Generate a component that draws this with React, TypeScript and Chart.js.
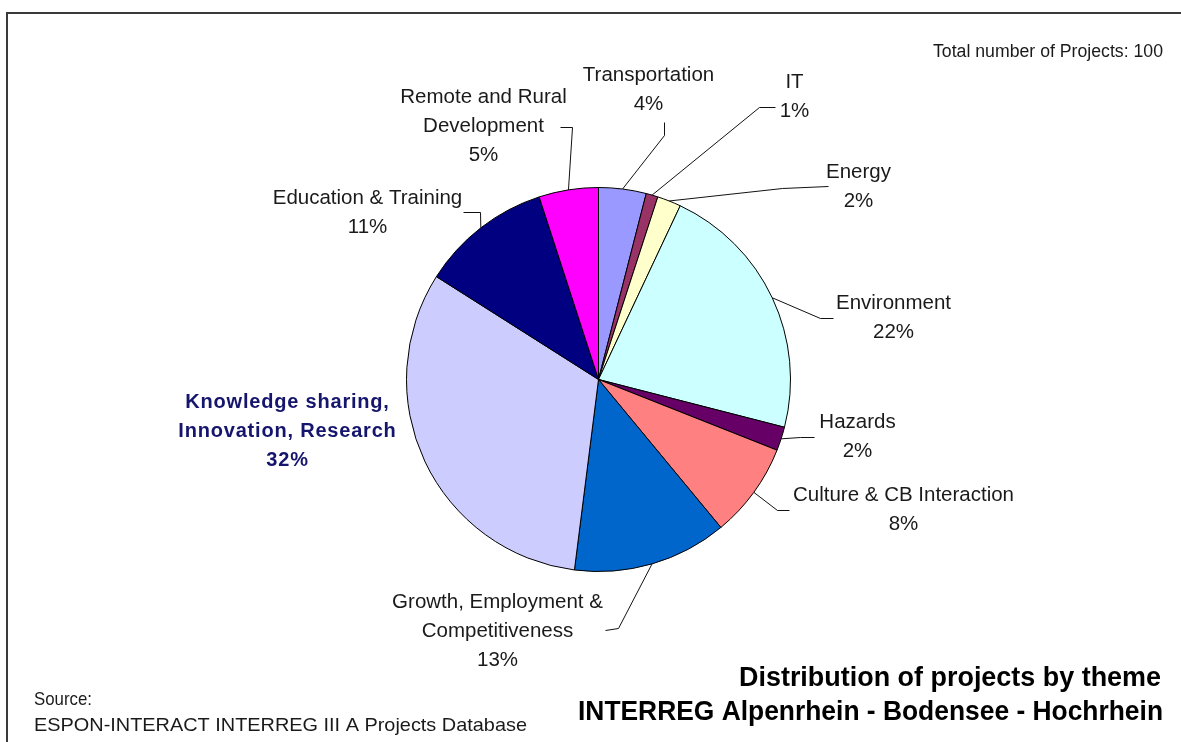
import React, { useEffect, useRef } from 'react';
import { Chart, registerables } from 'chart.js';

Chart.register(...registerables);

// ---------- data ----------
const THEMES = [
  'Transportation',
  'IT',
  'Energy',
  'Environment',
  'Hazards',
  'Culture & CB Interaction',
  'Growth, Employment & Competitiveness',
  'Knowledge sharing, Innovation, Research',
  'Education & Training',
  'Remote and Rural Development',
];
const PROJECTS = [4, 1, 2, 22, 2, 8, 13, 32, 11, 5];
const SLICE_COLORS = [
  '#9999FF',
  '#993366',
  '#FFFFCC',
  '#CCFFFF',
  '#660066',
  '#FF8080',
  '#0066CC',
  '#CCCCFF',
  '#000080',
  '#FF00FF',
];
const LABEL_LINES = [
  ['Transportation'],
  ['IT'],
  ['Energy'],
  ['Environment'],
  ['Hazards'],
  ['Culture & CB Interaction'],
  ['Growth, Employment &', 'Competitiveness'],
  ['Knowledge sharing,', 'Innovation, Research'],
  ['Education & Training'],
  ['Remote and Rural', 'Development'],
];
const TOTAL_LABEL = 'Total number of Projects: 100';
const TITLE_LINES = ['Distribution of projects by theme', 'INTERREG Alpenrhein - Bodensee - Hochrhein'];
const SOURCE_LINES = ['Source:', 'ESPON-INTERACT INTERREG III A Projects Database'];

// ---------- label layout (offsets from pie centre, px) ----------
const LAYOUT: { tx: number; ty: number; path: number[][]; bold?: boolean }[] = [
  { tx: 50, ty: -304, path: [[66, -244], [66, -257]] },
  { tx: 196, ty: -297, path: [[161, -272], [177, -272]] },
  { tx: 260, ty: -207, path: [[184, -191], [230, -193]] },
  { tx: 295, ty: -76, path: [[222, -61], [235, -61]] },
  { tx: 259, ty: 43, path: [[202, 58], [216, 58]] },
  { tx: 305, ty: 116, path: [[179, 131], [191, 131]] },
  { tx: -101, ty: 223, path: [[20, 249], [7, 251]] },
  { tx: -311, ty: 23, path: [], bold: true },
  { tx: -231, ty: -181, path: [[-118, -167], [-135, -167]] },
  { tx: -115, ty: -282, path: [[-26, -252], [-38, -252]] },
];
const LINE_H = 29;

function drawFitted(ctx: CanvasRenderingContext2D, text: string, x: number, y: number, align: 'left' | 'right', font: string, width: number) {
  ctx.save();
  ctx.font = font;
  const w = ctx.measureText(text).width;
  const s = width / w;
  ctx.translate(x, y);
  ctx.scale(s, 1);
  ctx.textAlign = align;
  ctx.textBaseline = 'middle';
  ctx.fillText(text, 0, 0);
  ctx.restore();
}

const annotPlugin = {
  id: 'annot',
  afterDatasetsDraw(chart: any) {
    const ctx: CanvasRenderingContext2D = chart.ctx;
    const meta = chart.getDatasetMeta(0);
    const total = PROJECTS.reduce((a, b) => a + b, 0);
    ctx.save();
    meta.data.forEach((arc: any, i: number) => {
      const { x, y, startAngle, endAngle, outerRadius } = arc.getProps(
        ['x', 'y', 'startAngle', 'endAngle', 'outerRadius'],
        true
      );
      const mid = (startAngle + endAngle) / 2;
      const lay = LAYOUT[i];
      if (lay.path.length) {
        ctx.beginPath();
        ctx.moveTo(x + Math.cos(mid) * outerRadius, y + Math.sin(mid) * outerRadius);
        lay.path.forEach(([dx, dy]) => ctx.lineTo(x + dx, y + dy));
        ctx.strokeStyle = '#111';
        ctx.lineWidth = 1;
        ctx.stroke();
      }
      const lines = [...LABEL_LINES[i], Math.round((PROJECTS[i] / total) * 100) + '%'];
      ctx.font = lay.bold ? 'bold 20px "Liberation Sans", Arial, sans-serif' : '20.5px "Liberation Sans", Arial, sans-serif';
      (ctx as any).letterSpacing = lay.bold ? '0.8px' : '0px';
      ctx.fillStyle = lay.bold ? '#15156e' : '#1a1a1a';
      ctx.textAlign = 'center';
      ctx.textBaseline = 'middle';
      lines.forEach((t, k) => ctx.fillText(t, x + lay.tx, y + lay.ty + k * LINE_H));
    });
    (ctx as any).letterSpacing = '0px';

    // frame (top and left)
    ctx.strokeStyle = '#3a3a3a';
    ctx.lineWidth = 2;
    ctx.beginPath();
    ctx.moveTo(7, 742);
    ctx.lineTo(7, 13);
    ctx.lineTo(1181, 13);
    ctx.stroke();

    ctx.fillStyle = '#1a1a1a';
    drawFitted(ctx, TOTAL_LABEL, 1163, 52, 'right', '18px "Liberation Sans", Arial, sans-serif', 230);

    ctx.fillStyle = '#000';
    drawFitted(ctx, TITLE_LINES[0], 1161, 678, 'right', 'bold 28px "Liberation Sans", Arial, sans-serif', 422);
    drawFitted(ctx, TITLE_LINES[1], 1163, 712, 'right', 'bold 28px "Liberation Sans", Arial, sans-serif', 585);

    ctx.fillStyle = '#1a1a1a';
    drawFitted(ctx, SOURCE_LINES[0], 34, 700, 'left', '19px "Liberation Sans", Arial, sans-serif', 58);
    drawFitted(ctx, SOURCE_LINES[1], 34, 726, 'left', '19px "Liberation Sans", Arial, sans-serif', 493);
    ctx.restore();
  },
};

export default function App() {
  const ref = useRef<HTMLCanvasElement>(null);
  useEffect(() => {
    if (!ref.current) return;
    const chart = new Chart(ref.current, {
      type: 'pie',
      data: {
        labels: THEMES,
        datasets: [
          {
            data: PROJECTS,
            backgroundColor: SLICE_COLORS,
            borderColor: '#000',
            borderWidth: 1,
          },
        ],
      },
      options: {
        animation: false,
        responsive: true,
        maintainAspectRatio: false,
        layout: { padding: { left: 406, right: 390, top: 187, bottom: 170 } },
        plugins: { legend: { display: false }, tooltip: { enabled: false } },
      },
      plugins: [annotPlugin],
    });
    return () => chart.destroy();
  }, []);
  return (
    <div style={{ position: 'absolute', left: 0, top: 0, width: 1181, height: 742, background: '#fff' }}>
      <canvas ref={ref} />
    </div>
  );
}
